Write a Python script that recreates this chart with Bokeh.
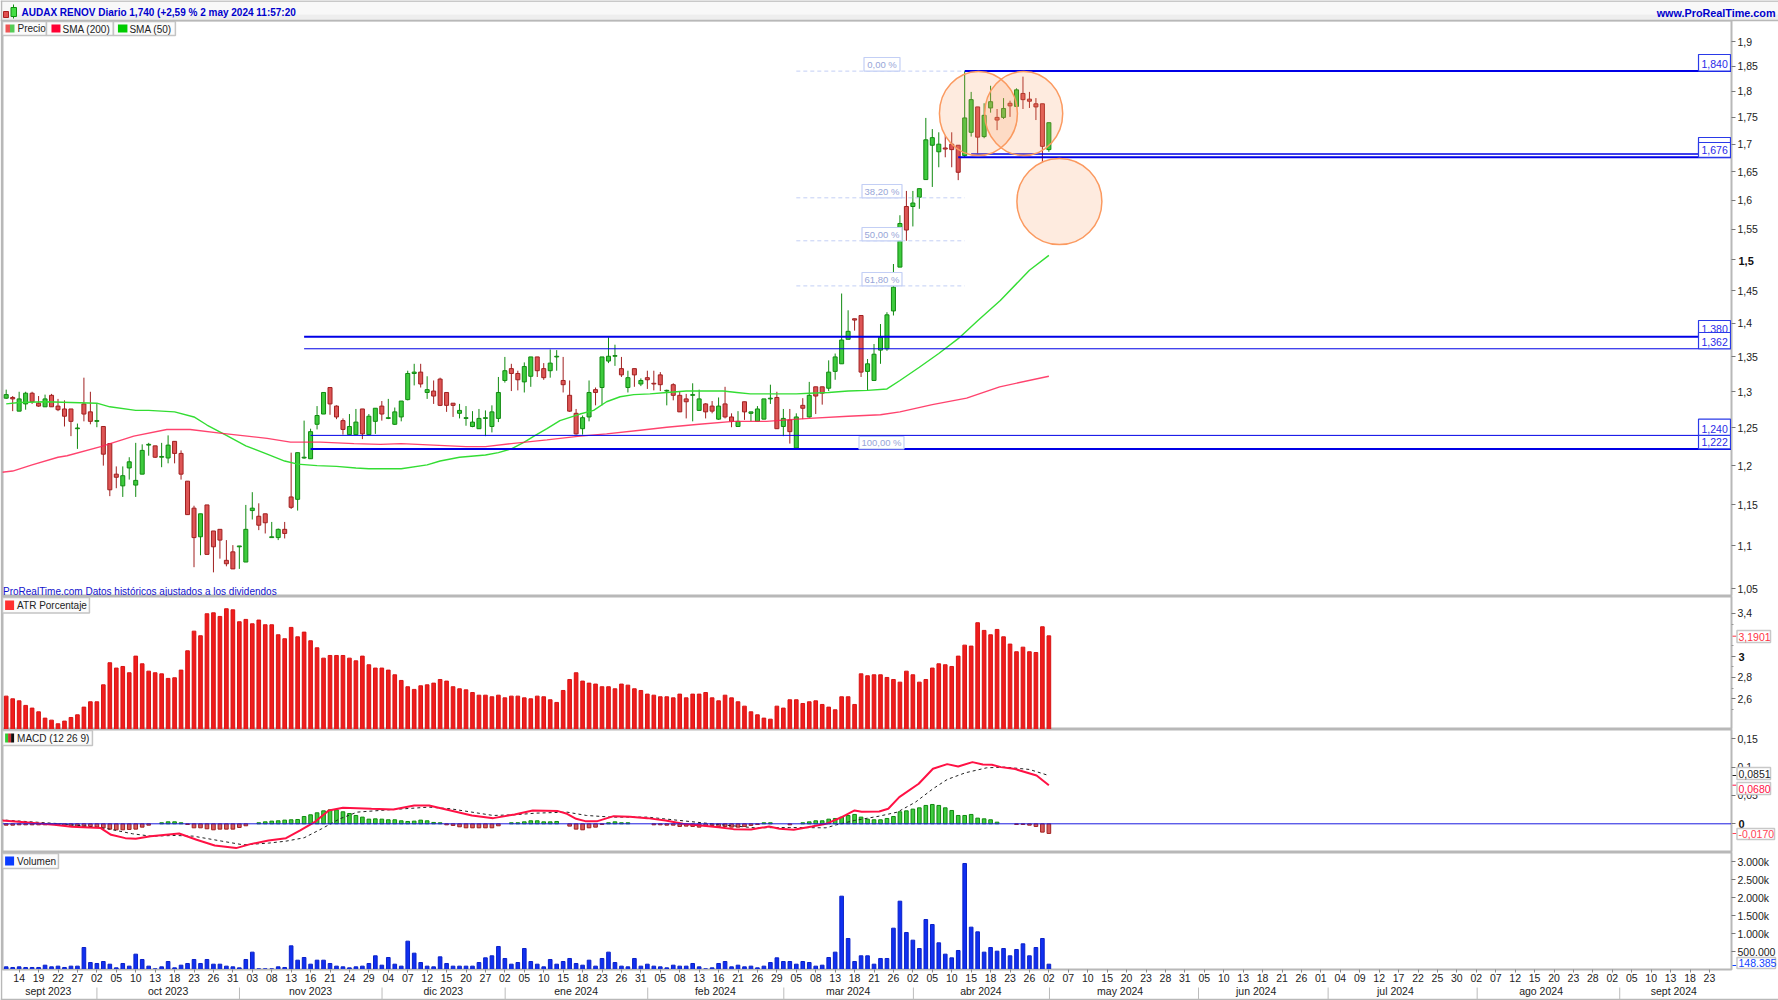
from math import exp
from bokeh.embed import file_html
from bokeh.resources import INLINE
from bokeh.layouts import column
from bokeh.plotting import figure
from bokeh.models import Range1d, FixedTicker, LinearAxis, Spacer
from bokeh.core.properties import value

# ---------- price data (daily candles, 2023-09-12 .. 2024-05-02) ----------
opens = [1.291,1.292,1.273,1.283,1.298,1.284,1.279,1.295,1.280,1.276,
 1.276,1.249,1.283,1.272,1.259,1.252,1.229,1.189,1.174,1.197,
 1.175,1.189,1.227,1.226,1.211,1.210,1.232,1.216,1.180,1.146,
 1.111,1.150,1.118,1.120,1.083,1.093,1.099,1.081,1.143,1.136,
 1.139,1.110,1.110,1.120,1.160,1.157,1.210,1.209,1.255,1.269,
 1.306,1.280,1.260,1.241,1.241,1.276,1.241,1.259,1.280,1.263,
 1.255,1.265,1.289,1.326,1.328,1.299,1.301,1.318,1.299,1.284,
 1.270,1.263,1.252,1.249,1.263,1.252,1.263,1.316,1.333,1.326,
 1.314,1.322,1.350,1.333,1.330,1.350,1.316,1.295,1.270,1.249,
 1.265,1.303,1.306,1.344,1.351,1.333,1.306,1.333,1.311,1.320,
 1.312,1.324,1.301,1.310,1.295,1.290,1.295,1.274,1.283,1.280,
 1.262,1.283,1.265,1.252,1.286,1.270,1.259,1.262,1.290,1.292,
 1.252,1.261,1.223,1.281,1.265,1.307,1.307,1.305,1.329,1.340,
 1.376,1.407,1.412,1.329,1.316,1.360,1.362,1.419,1.488,1.589,
 1.589,1.605,1.636,1.698,1.686,1.693,1.700,1.698,1.679,1.722,
 1.770,1.714,1.768,1.750,1.750,1.777,1.771,1.796,1.785,1.776,
 1.776,1.690]
highs = [1.303,1.294,1.300,1.300,1.300,1.294,1.296,1.297,1.290,1.288,
 1.276,1.256,1.320,1.300,1.284,1.252,1.229,1.199,1.199,1.211,
 1.230,1.228,1.230,1.226,1.230,1.240,1.232,1.220,1.180,1.149,
 1.139,1.150,1.118,1.120,1.107,1.101,1.100,1.150,1.166,1.152,
 1.139,1.129,1.121,1.129,1.217,1.217,1.260,1.249,1.280,1.299,
 1.306,1.281,1.263,1.269,1.276,1.276,1.269,1.277,1.287,1.290,
 1.278,1.287,1.330,1.340,1.340,1.322,1.316,1.320,1.299,1.284,
 1.283,1.280,1.273,1.276,1.274,1.281,1.321,1.350,1.340,1.330,
 1.342,1.350,1.350,1.341,1.361,1.360,1.350,1.316,1.276,1.267,
 1.316,1.306,1.350,1.379,1.368,1.350,1.330,1.333,1.319,1.330,
 1.330,1.328,1.303,1.312,1.300,1.297,1.312,1.303,1.284,1.287,
 1.292,1.307,1.270,1.273,1.286,1.272,1.280,1.290,1.310,1.300,
 1.276,1.276,1.270,1.291,1.314,1.307,1.307,1.345,1.355,1.446,
 1.420,1.407,1.412,1.347,1.369,1.399,1.417,1.493,1.574,1.616,
 1.616,1.620,1.749,1.728,1.722,1.716,1.722,1.698,1.840,1.799,
 1.770,1.777,1.811,1.766,1.787,1.782,1.806,1.829,1.799,1.787,
 1.776,1.740]
lows = [1.290,1.273,1.273,1.275,1.283,1.279,1.279,1.279,1.273,1.252,
 1.239,1.222,1.259,1.255,1.251,1.200,1.161,1.171,1.160,1.182,
 1.160,1.189,1.213,1.210,1.198,1.203,1.203,1.182,1.138,1.075,
 1.089,1.090,1.069,1.085,1.076,1.073,1.073,1.081,1.132,1.119,
 1.115,1.110,1.107,1.109,1.145,1.143,1.209,1.209,1.248,1.269,
 1.268,1.262,1.241,1.241,1.241,1.235,1.241,1.242,1.260,1.262,
 1.254,1.259,1.288,1.309,1.306,1.290,1.283,1.280,1.272,1.265,
 1.263,1.253,1.251,1.249,1.239,1.244,1.258,1.313,1.301,1.302,
 1.299,1.307,1.321,1.317,1.320,1.330,1.299,1.272,1.241,1.241,
 1.259,1.281,1.281,1.341,1.337,1.321,1.299,1.307,1.308,1.304,
 1.302,1.301,1.281,1.288,1.272,1.263,1.259,1.274,1.263,1.270,
 1.261,1.263,1.251,1.252,1.261,1.259,1.259,1.262,1.283,1.249,
 1.239,1.229,1.222,1.262,1.264,1.269,1.282,1.301,1.317,1.340,
 1.376,1.389,1.321,1.302,1.316,1.340,1.359,1.412,1.488,1.531,
 1.555,1.585,1.636,1.623,1.658,1.676,1.658,1.635,1.676,1.714,
 1.683,1.711,1.759,1.726,1.747,1.751,1.770,1.766,1.768,1.745,
 1.667,1.686]
closes = [1.296,1.290,1.290,1.298,1.286,1.280,1.290,1.279,1.275,1.266,
 1.259,1.250,1.269,1.259,1.260,1.215,1.169,1.185,1.187,1.205,
 1.181,1.220,1.228,1.211,1.212,1.227,1.216,1.189,1.138,1.110,
 1.139,1.090,1.099,1.107,1.079,1.073,1.100,1.120,1.146,1.125,
 1.128,1.111,1.120,1.115,1.147,1.217,1.211,1.245,1.267,1.299,
 1.283,1.265,1.248,1.252,1.258,1.242,1.266,1.277,1.269,1.264,
 1.272,1.287,1.326,1.328,1.311,1.303,1.294,1.281,1.281,1.281,
 1.274,1.264,1.258,1.263,1.264,1.272,1.299,1.330,1.326,1.317,
 1.336,1.350,1.330,1.320,1.341,1.351,1.310,1.273,1.242,1.264,
 1.299,1.299,1.350,1.351,1.352,1.324,1.320,1.324,1.316,1.317,
 1.311,1.310,1.302,1.295,1.272,1.286,1.296,1.290,1.272,1.273,
 1.280,1.265,1.259,1.259,1.272,1.272,1.276,1.290,1.291,1.249,
 1.263,1.245,1.265,1.277,1.295,1.294,1.298,1.328,1.350,1.375,
 1.388,1.405,1.328,1.340,1.354,1.379,1.413,1.456,1.560,1.549,
 1.595,1.620,1.708,1.712,1.700,1.691,1.690,1.649,1.749,1.784,
 1.713,1.754,1.780,1.745,1.767,1.772,1.803,1.784,1.781,1.770,
 1.696,1.740]

sma50_bar = [0,2,6,10,14,16,20,22,26,29,31,34,37,40,43,45,48,51,54,56,61,65,67,70,74,76,78,80,81.5,83.5,85.5,88.6,90.7,92.7,94.8,96.9,99.4,102,105,110.7,112.8,114.9,122,124,127,130,133,136,138,141,144,147,150,153.5,158,161]
sma50_val = [1.283,1.285,1.286,1.285,1.284,1.279,1.274,1.274,1.272,1.265,1.254,1.240,1.226,1.216,1.206,1.202,1.200,1.199,1.197,1.196,1.196,1.201,1.206,1.211,1.214,1.217,1.222,1.231,1.239,1.249,1.260,1.269,1.274,1.286,1.293,1.296,1.297,1.299,1.301,1.301,1.299,1.297,1.297,1.298,1.299,1.301,1.302,1.304,1.316,1.335,1.355,1.377,1.404,1.435,1.483,1.507]
sma200_bar = [-1,1,4,8,9.4,14.6,19.7,24.8,28.4,33,37.2,40.3,43.9,48.5,53.7,57.8,61,66,71,74,78,83.5,88.6,92.7,97.9,102,107,112.3,117.4,120.5,124,130,135,138,143,148.3,153.4,161]
sma200_val = [1.191,1.193,1.201,1.211,1.213,1.225,1.239,1.248,1.248,1.243,1.239,1.236,1.231,1.231,1.229,1.228,1.229,1.227,1.225,1.225,1.229,1.234,1.239,1.242,1.247,1.251,1.255,1.259,1.259,1.261,1.263,1.266,1.268,1.272,1.282,1.291,1.307,1.322]

# ---------- ATR % ----------
atr = [2.625,2.600,2.581,2.538,2.513,2.478,2.419,2.400,2.366,2.391,
 2.425,2.450,2.522,2.572,2.572,2.731,2.938,2.888,2.903,2.844,
 3.000,2.928,2.859,2.844,2.834,2.791,2.797,2.869,3.050,3.234,
 3.191,3.397,3.406,3.372,3.444,3.434,3.322,3.344,3.303,3.338,
 3.294,3.294,3.200,3.163,3.269,3.181,3.225,3.144,3.078,2.981,
 3.006,3.006,3.006,2.981,2.956,3.000,2.919,2.888,2.888,2.869,
 2.825,2.772,2.713,2.688,2.722,2.731,2.747,2.781,2.766,2.713,
 2.694,2.684,2.659,2.634,2.634,2.619,2.634,2.609,2.625,2.625,
 2.609,2.600,2.625,2.619,2.591,2.566,2.678,2.781,2.844,2.766,
 2.747,2.738,2.713,2.713,2.694,2.738,2.728,2.694,2.678,2.644,
 2.634,2.619,2.619,2.609,2.644,2.609,2.644,2.644,2.659,2.609,
 2.581,2.634,2.609,2.572,2.531,2.478,2.450,2.419,2.409,2.531,
 2.513,2.591,2.591,2.556,2.572,2.581,2.547,2.522,2.497,2.619,
 2.619,2.547,2.834,2.816,2.825,2.825,2.800,2.781,2.756,2.859,
 2.825,2.756,2.781,2.888,2.928,2.919,2.903,3.000,3.103,3.094,
 3.313,3.241,3.200,3.250,3.181,3.113,3.041,3.084,3.041,3.034,
 3.275,3.190]

# ---------- MACD ----------
macd_bar = [-1,1.9,7.4,10.1,14.6,16.2,18.4,20,22.3,26.7,29.4,32.2,35.5,37.7,40.5,43.2,45.4,47.6,49.8,52,56.4,59.8,63,65.3,68.6,71.9,75.2,78.5,81.3,85.2,86.6,88,89.4,91.3,93.8,96.3,99,101.8,104.5,107.3,110,112.3,115,117.8,119.4,121.6,124.4,126.6,128.8,131,132.1,134.8,136.2,137.9,140.9,143.1,145.3,147,149.2,150.8,152.2,153.6,155.8,159.1,161]
macd_val = [.0059,.0035,-.0018,-.0053,-.0076,-.0194,-.0253,-.0265,-.0218,-.0171,-.0282,-.0382,-.0429,-.0359,-.0294,-.0253,-.0118,.0029,.0235,.0282,.0265,.0253,.0324,.0324,.0235,.0147,.0100,.0165,.0235,.0224,.0176,.0088,.0047,.0047,.0135,.0124,.0100,.0059,.0000,-.0029,-.0059,-.0094,-.0100,-.0047,-.0088,-.0106,-.0047,.0000,.0106,.0235,.0212,.0218,.0265,.0471,.0706,.0971,.1053,.1012,.1088,.1047,.1041,.1000,.0965,.0853,.0680]
signal_bar = [-1,4.6,8.5,12.9,15.7,19.5,22.3,26.1,28.9,33.3,36.6,40.5,43.2,46,48.7,51.5,54.2,59.8,65.3,68.6,71.9,75.2,78.5,81.8,86.6,89.6,93.5,99,104.5,110,115.6,121,126.6,128.2,131,134.8,137.6,140.4,143.1,145.3,148.1,151.4,154.2,158,161]
signal_val = [.0071,.0029,.0000,-.0047,-.0088,-.0176,-.0218,-.0206,-.0218,-.0306,-.0371,-.0341,-.0306,-.0247,-.0088,.0088,.0206,.0253,.0294,.0265,.0206,.0147,.0159,.0188,.0206,.0147,.0118,.0118,.0053,-.0012,-.0071,-.0065,-.0071,-.0018,.0059,.0135,.0206,.0382,.0618,.0782,.0900,.0988,.1000,.0959,.0851]
hist = [-.0024,-.0024,-.0018,-.0018,-.0018,-.0018,-.0018,-.0012,-.0018,-.0024,
 -.0035,-.0041,-.0047,-.0047,-.0059,-.0071,-.0094,-.0106,-.0106,-.0100,
 -.0094,-.0059,-.0024,0,.0018,.0035,.0035,.0018,-.0012,-.0071,
 -.0071,-.0088,-.0106,-.0094,-.0094,-.0094,-.0065,-.0035,0,.0018,
 .0035,.0047,.0053,.0065,.0071,.0076,.0129,.0159,.0194,.0229,
 .0247,.0247,.0212,.0182,.0147,.0118,.0082,.0088,.0082,.0071,
 .0071,.0053,.0041,.0047,.0065,.0053,.0024,.0018,-.0018,-.0029,
 -.0053,-.0071,-.0071,-.0071,-.0071,-.0071,-.0035,0,.0018,.0018,
 .0035,.0053,.0053,.0035,.0035,.0041,0,-.0041,-.0094,-.0106,
 -.0071,-.0059,-.0012,.0018,.0035,.0018,.0018,0,0,0,
 -.0018,-.0018,-.0024,-.0024,-.0047,-.0041,-.0047,-.0059,-.0035,-.0029,
 -.0047,-.0047,-.0059,-.0059,-.0047,-.0029,-.0012,.0018,.0018,0,
 0,-.0018,0,.0018,.0035,.0053,.0053,.0082,.0094,.0118,
 .0147,.0165,.0118,.0082,.0071,.0071,.0094,.0129,.0212,.0229,
 .0259,.0282,.0324,.0341,.0324,.0282,.0235,.0147,.0147,.0165,
 .0100,.0088,.0071,.0029,0,0,-.0012,-.0012,-.0024,-.0047,
 -.0147,-.0170]

# ---------- volume, thousands of shares ----------
volume = [74,56,74,56,56,56,120,74,93,56,
 93,93,611,194,167,222,148,46,167,93,
 426,278,93,19,74,222,46,120,167,278,
 167,278,148,148,93,74,46,278,482,19,
 19,19,74,56,657,259,333,148,259,259,
 167,93,74,46,74,93,167,380,120,333,
 148,93,787,454,194,93,74,352,167,93,
 93,93,93,194,324,380,639,306,148,194,
 583,222,148,74,278,148,222,306,167,120,
 259,93,306,482,194,93,74,306,93,148,
 93,74,46,120,93,93,167,74,19,46,
 167,222,74,120,74,93,46,93,194,324,
 222,222,148,222,194,93,120,333,482,2037,
 861,222,380,380,148,306,306,1148,1898,1028,
 815,583,1389,1250,741,426,324,528,2945,1176,
 1046,482,611,509,583,380,556,713,380,611,
 861,148]

# ---------- levels and labels ----------
level_price = [1.840, 1.682, 1.676, 1.380, 1.362, 1.240, 1.222]
level_start = [148, 149, 147, 46, 46, 47, 47]
level_width = [2, 1.5, 2, 2, 1, 1, 2]
fib_price = [1.840, 1.604, 1.531, 1.458, 1.222]
fib_label = ["0,00 %", "38,20 %", "50,00 %", "61,80 %", "100,00 %"]
main_ticks = [1.05,1.1,1.15,1.2,1.25,1.3,1.35,1.4,1.45,1.5,1.55,1.6,1.65,1.7,1.75,1.8,1.85,1.9]
main_tick_labels = ["1,05","1,1","1,15","1,2","1,25","1,3","1,35","1,4","1,45","","1,55","1,6","1,65","1,7","1,75","1,8","1,85","1,9"]
day_labels = "14 19 22 27 02 05 10 13 18 23 26 31 03 08 13 16 21 24 29 04 07 12 15 20 27 02 05 10 15 18 23 26 31 05 08 13 16 21 26 29 05 08 13 18 21 26 02 05 10 15 18 23 26 02 07 10 15 20 23 28 31 05 10 13 18 21 26 01 04 09 12 17 22 25 30 02 07 12 15 20 23 28 02 05 10 13 18 23".split()
month_labels = ["sept 2023","oct 2023","nov 2023","dic 2023","ene 2024","feb 2024","mar 2024","abr 2024","may 2024","jun 2024","jul 2024","ago 2024","sept 2024"]
month_mid = [6.5,25,47,67.5,88,109.5,130,150.5,172,193,214.5,237,257.5]
month_start = [14,36,58,77,99,120,140,161,184,204,227,249]

# ---------- layout helpers (page pixels of the annotation layer) ----------
FONT = "Liberation Sans"
W = 1778
BLUE = "#0000e6"
def X(px): return (px - 5.7) / 6.48
def Ym(px): return 1.9 * exp(-(px - 41) / 923)
def Ya(px): return 2.6 + (698.3 - px) / 106.7
def Yd(px): return (823.3 - px) / 566.7
def Yv(px): return (969 - px) * 27.78

xr = Range1d(X(2), X(1732))
bars = list(range(len(closes)))

def panel(h, yr, ytype="linear", bottom=0, xloc=None):
    p = figure(width=W, height=h, x_range=xr, y_range=yr, y_axis_type=ytype,
               y_axis_location="right", x_axis_location=xloc, output_backend="svg",
               toolbar_location=None, min_border_left=2, min_border_right=46,
               min_border_top=0, min_border_bottom=bottom,
               outline_line_color="#b8b8b8", outline_line_width=2,
               background_fill_color="white", border_fill_color="white")
    p.grid.visible = False
    ax = p.yaxis[0]
    ax.axis_line_color = "#b8b8b8"
    ax.major_tick_line_color = "#777777"
    ax.major_tick_out = 4
    ax.major_tick_in = 0
    ax.minor_tick_line_color = None
    ax.major_label_standoff = 2
    ax.major_label_text_font = FONT
    ax.major_label_text_font_size = "10.5px"
    ax.major_label_text_color = "#222222"
    return p

def txt(p, xpx, y, s, color="#222222", size="10px", style="normal", align="left"):
    p.text(x=[X(xpx)], y=[y], text=[s], text_font=value(FONT), text_font_size=size,
           text_color=color, text_baseline="middle", text_align=align,
           text_font_style=style)

def legend(p, Y, x1, y0, y1, name, swatches):
    p.quad(left=[X(2)], right=[X(x1)], top=[Y(y0)], bottom=[Y(y1)], fill_color="#fbfbfb",
           line_color="#c4c4c4", line_width=1.5)
    for a_, b_, c in swatches:
        p.quad(left=[X(a_)], right=[X(b_)], top=[Y(y0 + 3)], bottom=[Y(y1 - 3)], fill_color=c, line_color=None)
    txt(p, swatches[-1][1] + 3, Y((y0 + y1) / 2), name, size="10px")

# ---------- main price panel ----------
m = panel(576, Range1d(Ym(596), Ym(20)), "log")
m.yaxis[0].ticker = FixedTicker(ticks=main_ticks)
m.yaxis[0].major_label_overrides = dict(zip(main_ticks, main_tick_labels))
up = [i for i in bars if closes[i] >= opens[i]]
dn = [i for i in bars if closes[i] < opens[i]]
for idx, fill, edge in ((up, "#3ecb3e", "#108a10"), (dn, "#dd5555", "#a02020")):
    m.segment(x0=idx, x1=idx, y0=[lows[i] for i in idx], y1=[highs[i] for i in idx], line_color=edge, line_width=1)
    m.vbar(x=idx, width=0.62, top=[max(opens[i], closes[i]) for i in idx],
           bottom=[min(opens[i], closes[i]) for i in idx], fill_color=fill, line_color=edge, line_width=1)
m.line(sma50_bar, sma50_val, line_color="#33dd33", line_width=1.4)
m.line(sma200_bar, sma200_val, line_color="#ff2255", line_width=1.4, line_alpha=0.85)

# horizontal levels
m.segment(x0=level_start, x1=[X(1732)] * len(level_start), y0=level_price, y1=level_price,
          line_color=BLUE, line_width=level_width)
# fibonacci retracement
fib_x0, fib_x1 = 122, 148
for pr in fib_price[:-1]:
    m.segment(x0=[fib_x0], x1=[fib_x1], y0=[pr], y1=[pr], line_color="#c3cff5", line_dash="4 3", line_width=1)
fib_boxes = [(864, 900, 57), (862, 902, 184), (862, 902, 227), (862, 902, 272), (859, 904, 436)]
for (a_, b_, t), pr, s in zip(fib_boxes, fib_price, fib_label):
    m.quad(left=[X(a_)], right=[X(b_)], top=[Ym(t)], bottom=[pr], fill_color="white", line_color="#c3cff5", line_width=1.2)
    m.text(x=[(X(a_) + X(b_)) / 2], y=[(Ym(t) * pr) ** 0.5], text=[s], text_font=value(FONT), text_font_size="9.5px",
           text_color="#98a6d8", text_baseline="middle", text_align="center")
# circles drawn on the chart
m.ellipse(x=[X(978.5), X(1023.8), X(1059.5)], y=[Ym(113), Ym(113), Ym(201)], width=[78, 78, 85], height=[84, 84, 86],
          width_units="screen", height_units="screen", fill_color="#fb9a60", fill_alpha=0.2,
          line_color="#fb9a60", line_width=1.5)
# right hand price boxes
price_boxes = [(54, 1.840, "1,840", 63), (137, 1.682, "", 0), (142, 1.676, "1,676", 149), (320, 1.380, "1,380", 328.5),
               (332, 1.362, "1,362", 341), (418.7, 1.240, "1,240", 428), (435, 1.222, "1,222", 441)]
for t, pr, s, ty in price_boxes:
    m.quad(left=[X(1699)], right=[X(1731)], top=[Ym(t)], bottom=[pr], fill_color="white", line_color="#2a3ae8", line_width=1.2)
    if s:
        txt(m, 1702, Ym(ty), s, color="#2a2ae8", size="10.5px")
legend(m, Ym, 46, 21, 35, "Precio", [(5, 9.5, "#ee5555"), (9.5, 14, "#55cc55")])
m.quad(left=[X(46)], right=[X(113)], top=[Ym(21)], bottom=[Ym(35)], fill_color="#fbfbfb", line_color="#c4c4c4", line_width=1.5)
m.quad(left=[X(51)], right=[X(60)], top=[Ym(24)], bottom=[Ym(32)], fill_color="#ff0033", line_color=None)
txt(m, 62, Ym(28.5), "SMA (200)")
m.quad(left=[X(113)], right=[X(175)], top=[Ym(21)], bottom=[Ym(35)], fill_color="#fbfbfb", line_color="#c4c4c4", line_width=1.5)
m.quad(left=[X(117.5)], right=[X(127)], top=[Ym(24)], bottom=[Ym(32)], fill_color="#00cc00", line_color=None)
txt(m, 129, Ym(28.5), "SMA (50)")
txt(m, 2.5, Ym(590.5), "ProRealTime.com  Datos históricos ajustados a los dividendos", color="#1111cc", size="10px")

# ---------- ATR ----------
ar = Range1d(Ya(729), Ya(596))
a = panel(133, ar)
a.yaxis[0].ticker = FixedTicker(ticks=[2.6, 2.8, 3.0, 3.4], minor_ticks=[2.5, 2.7, 2.9, 3.1, 3.3])
a.yaxis[0].major_label_overrides = {2.6: "2,6", 2.8: "2,8", 3.0: "", 3.4: "3,4"}
a.yaxis[0].minor_tick_line_color = "#999999"
a.yaxis[0].minor_tick_out = 2
a.yaxis[0].minor_tick_in = 0
a.vbar(x=bars, width=0.56, top=atr, bottom=ar.start, fill_color="#f01c1c", line_color="#d81414", line_width=1)
legend(a, Ya, 89, 597, 612.5, "ATR Porcentaje", [(4.6, 13.6, "#ff3030")])

# ---------- MACD ----------
d = panel(123, Range1d(Yd(852), Yd(729)))
d_ticks = [0, 0.05, 0.1, 0.15]
d.yaxis[0].ticker = FixedTicker(ticks=d_ticks)
d.yaxis[0].major_label_overrides = {0: "", 0.05: "0,05", 0.1: "0,1", 0.15: "0,15"}
hg = [i for i in bars if hist[i] > 0]
hr = [i for i in bars if hist[i] < 0]
d.vbar(x=hg, width=0.56, top=[hist[i] for i in hg], bottom=0, fill_color="#3ecb3e", line_color="#108a10", line_width=1)
d.vbar(x=hr, width=0.56, top=0, bottom=[hist[i] for i in hr], fill_color="#d65c5c", line_color="#a02020", line_width=1)
d.line(signal_bar, signal_val, line_color="#222222", line_width=1, line_dash="3 3")
d.line(macd_bar, macd_val, line_color="#ff1144", line_width=2)
d.segment(x0=[X(2)], x1=[X(1732)], y0=[0], y1=[0], line_color="#1a1ae0", line_width=1)
legend(d, Yd, 92, 730, 745, "MACD (12 26 9)", [(4.6, 7.6, "#33cc33"), (7.6, 10.6, "#cc3333"), (10.6, 13.6, "#111111")])

# ---------- volume and date axis ----------
v = panel(148, Range1d(0, Yv(852)), bottom=31, xloc="below")
v_ticks = [500, 1000, 1500, 2000, 2500, 3000]
v.yaxis[0].ticker = FixedTicker(ticks=v_ticks)
v.yaxis[0].major_label_overrides = dict(zip(v_ticks, ["500.000", "1.000k", "1.500k", "2.000k", "2.500k", "3.000k"]))
v.vbar(x=bars, width=0.56, top=volume, bottom=0, fill_color="#1030f0", line_color="#0a20c8", line_width=1)
legend(v, Yv, 58, 853, 868, "Volumen", [(4.6, 13.6, "#0a3cff")])

day_bars = [2 + 3 * i for i in range(len(day_labels))]
ax1 = v.xaxis[0]
ax1.ticker = FixedTicker(ticks=day_bars)
ax1.major_label_overrides = dict(zip(day_bars, day_labels))
ax1.axis_line_color = "#b8b8b8"
ax1.major_tick_line_color = "#888888"
ax1.major_tick_out = 3
ax1.major_tick_in = 0
ax1.minor_tick_line_color = None
ax1.major_label_standoff = 1
ax1.major_label_text_font = FONT
ax1.major_label_text_font_size = "10.5px"
ax1.major_label_text_color = "#222222"

ax2 = LinearAxis(ticker=FixedTicker(ticks=month_mid))
ax2.major_label_overrides = dict(zip(month_mid, month_labels))
ax2.axis_line_color = None
ax2.major_tick_line_color = None
ax2.major_tick_out = 0
ax2.major_tick_in = 0
ax2.minor_tick_line_color = None
ax2.major_label_standoff = 0
ax2.major_label_text_font = FONT
ax2.major_label_text_font_size = "10.5px"
ax2.major_label_text_color = "#222222"
v.add_layout(ax2, "below")

# ---------- transparent page layer: header bar, bold ticks, current value tags ----------
top = figure(width=W, height=1000, x_range=Range1d(0, W), y_range=Range1d(1000, 0),
             x_axis_location=None, y_axis_location=None, output_backend="svg", toolbar_location=None,
             min_border=0, outline_line_color=None, background_fill_color=None, border_fill_color=None,
             frame_align=False, styles={"position": "absolute", "left": "0px", "top": "0px"})
top.grid.visible = False
top.quad(left=[0], right=[W], top=[0], bottom=[14], fill_color="#f8f8f8", line_color=None)
top.quad(left=[0], right=[W], top=[14], bottom=[20], fill_color="#eeeeee", line_color=None)
top.segment(x0=[0, 0, 1, 0], x1=[W, W, 1, W], y0=[0.5, 20, 0, 999], y1=[0.5, 20, 999, 999], line_color="#b8b8b8", line_width=1.5)
top.quad(left=[3], right=[8], top=[11], bottom=[17], fill_color="#e05050", line_color="#aa2020")
top.segment(x0=[13], x1=[13], y0=[4], y1=[18], line_color="#109010")
top.quad(left=[10.5], right=[16], top=[7], bottom=[16], fill_color="#44dd44", line_color="#109010")
top.text(x=[21], y=[12], text=["AUDAX RENOV Diario 1,740 (+2,59 % 2 may 2024 11:57:20"], text_font=value(FONT),
         text_font_size="10px", text_font_style="bold", text_color="#0000cc", text_baseline="middle")
top.text(x=[1775], y=[12], text=["www.ProRealTime.com"], text_font=value(FONT), text_font_size="10.8px",
         text_font_style="bold", text_color="#0000cc", text_baseline="middle", text_align="right")
month_px = [5.7 + 6.48 * i for i in month_start]
top.segment(x0=month_px, x1=month_px, y0=[987] * len(month_px), y1=[999] * len(month_px), line_color="#bbbbbb", line_width=1)
bold_texts = ["1,5", "3", "0"]
bold_y = [260, 656, 823]
top.text(x=[1738] * 3, y=bold_y, text=bold_texts, text_font=value(FONT), text_font_size="11px",
         text_font_style="bold", text_color="#111111", text_baseline="middle")
tag_text = ["3,1901", "0,0851", "0,0680", "-0,0170", "148.385"]
tag_color = ["#ff3344", "#222222", "#ff1144", "#ff4455", "#1144ff"]
tag_y0 = [630, 767, 782, 828, 957]
tag_y1 = [642, 779, 794, 839, 968]
tag_x1 = [1770, 1770, 1770, 1774, 1775]
tag_tick = [635.7, 775, 784.7, 833, 965]
top.segment(x0=[1732] * 5, x1=[1736] * 5, y0=tag_tick, y1=tag_tick, line_color=tag_color, line_width=1)
top.quad(left=[1736.5] * 5, right=tag_x1, top=tag_y0, bottom=tag_y1, fill_color="white", line_color="#c8c8c8", line_width=1.5)
top.text(x=[1738] * 5, y=[(p0 + p1) / 2 for p0, p1 in zip(tag_y0, tag_y1)], text=tag_text, text_font=value(FONT),
         text_font_size="10.5px", text_color=tag_color, text_baseline="middle")

root = column(Spacer(width=W, height=20), m, a, d, v, top, spacing=0,
              styles={"position": "absolute", "left": "0px", "top": "0px"})
open("out.html", "w").write(file_html(root, INLINE))
